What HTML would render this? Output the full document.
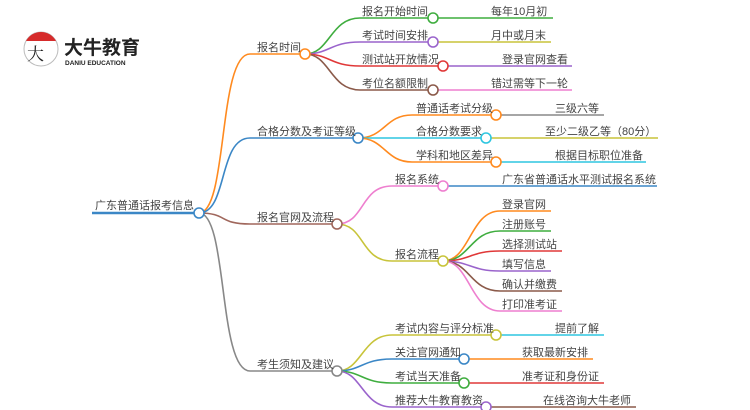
<!DOCTYPE html>
<html><head><meta charset="utf-8"><style>
html,body{margin:0;padding:0;background:#fff;}
svg{display:block;}
text{font-family:"Liberation Sans","Noto Sans CJK SC",sans-serif;font-size:11px;fill:#444;}
</style></head><body>
<svg width="750" height="410" viewBox="0 0 750 410" xmlns="http://www.w3.org/2000/svg">
<g fill="none" stroke-width="1.6">
<path d="M92,213 L199,213" stroke="#3b87c6" stroke-width="2.5"/>
<path d="M199,213 C228,213 218,54 250,54 L305,54" stroke="#ff8a1f"/>
<path d="M199,213 C228,213 218,138 250,138 L358,138" stroke="#3b87c6"/>
<path d="M199,213 C228,213 218,224 250,224 L337,224" stroke="#a0675c"/>
<path d="M199,213 C228,213 218,371 250,371 L337,371" stroke="#888"/>
<path d="M305,54 C330,54 330,18 360,18 L433,18" stroke="#3fad3f"/>
<path d="M305,54 C330,54 330,42 360,42 L433,42" stroke="#9a64cc"/>
<path d="M305,54 C330,54 330,66 360,66 L443,66" stroke="#e03838"/>
<path d="M305,54 C330,54 330,90 360,90 L433,90" stroke="#8b5a4a"/>
<path d="M433,18 L553,18" stroke="#3fad3f"/>
<path d="M433,42 L551,42" stroke="#c8c43a"/>
<path d="M443,66 L572,66" stroke="#9a64cc"/>
<path d="M433,90 L572,90" stroke="#ee7fcf"/>
<path d="M358,138 C385,138 385,115 412,115 L496,115" stroke="#ff8a1f"/>
<path d="M358,138 L486,138" stroke="#2fc6e0"/>
<path d="M358,138 C385,138 385,162 412,162 L496,162" stroke="#ff8a1f"/>
<path d="M496,115 L604,115" stroke="#888"/>
<path d="M486,138 L658,138" stroke="#c8c43a"/>
<path d="M496,162 L646,162" stroke="#2fc6e0"/>
<path d="M337,224 C365,224 360,186 392,186 L443,186" stroke="#ee7fcf"/>
<path d="M337,224 C365,224 360,261 392,261 L443,261" stroke="#c8c43a"/>
<path d="M443,186 L657,186" stroke="#3b87c6"/>
<path d="M443,261 C470,261 470,211 500,211 L551,211" stroke="#ff8a1f"/>
<path d="M443,261 C470,261 470,231 500,231 L551,231" stroke="#3fad3f"/>
<path d="M443,261 C470,261 470,251 500,251 L562,251" stroke="#e03838"/>
<path d="M443,261 C470,261 470,271 500,271 L551,271" stroke="#9a64cc"/>
<path d="M443,261 C470,261 470,291 500,291 L562,291" stroke="#8b5a4a"/>
<path d="M443,261 C470,261 470,311 500,311 L562,311" stroke="#ee7fcf"/>
<path d="M337,371 C362,371 362,335 392,335 L496,335" stroke="#c8c43a"/>
<path d="M337,371 C362,371 362,359 392,359 L464,359" stroke="#3b87c6"/>
<path d="M337,371 C362,371 362,383 392,383 L464,383" stroke="#3fad3f"/>
<path d="M337,371 C362,371 362,407 392,407 L486,407" stroke="#9a64cc"/>
<path d="M496,335 L604,335" stroke="#2fc6e0"/>
<path d="M464,359 L593,359" stroke="#ff8a1f"/>
<path d="M464,383 L604,383" stroke="#e03838"/>
<path d="M486,407 L636,407" stroke="#8b5a4a"/>
</g>
<g fill="#fff" stroke-width="1.6">
<circle cx="199" cy="213" r="5" stroke="#3b87c6"/>
<circle cx="305" cy="54" r="5" stroke="#ff8a1f"/>
<circle cx="358" cy="138" r="5" stroke="#3b87c6"/>
<circle cx="337" cy="224" r="5" stroke="#a0675c"/>
<circle cx="337" cy="371" r="5" stroke="#888"/>
<circle cx="433" cy="18" r="5" stroke="#3fad3f"/>
<circle cx="433" cy="42" r="5" stroke="#9a64cc"/>
<circle cx="443" cy="66" r="5" stroke="#e03838"/>
<circle cx="433" cy="90" r="5" stroke="#8b5a4a"/>
<circle cx="496" cy="115" r="5" stroke="#ff8a1f"/>
<circle cx="486" cy="138" r="5" stroke="#2fc6e0"/>
<circle cx="496" cy="162" r="5" stroke="#ff8a1f"/>
<circle cx="443" cy="186" r="5" stroke="#ee7fcf"/>
<circle cx="443" cy="261" r="5" stroke="#c8c43a"/>
<circle cx="496" cy="335" r="5" stroke="#c8c43a"/>
<circle cx="464" cy="359" r="5" stroke="#3b87c6"/>
<circle cx="464" cy="383" r="5" stroke="#3fad3f"/>
<circle cx="486" cy="407" r="5" stroke="#9a64cc"/>
</g>
<text x="95" y="209">广东普通话报考信息</text>
<text x="257" y="51">报名时间</text>
<text x="257" y="135">合格分数及考证等级</text>
<text x="257" y="221">报名官网及流程</text>
<text x="257" y="368">考生须知及建议</text>
<text x="362" y="15">报名开始时间</text>
<text x="362" y="39">考试时间安排</text>
<text x="362" y="63">测试站开放情况</text>
<text x="362" y="87">考位名额限制</text>
<text x="491" y="15">每年10月初</text>
<text x="491" y="39">月中或月末</text>
<text x="502" y="63">登录官网查看</text>
<text x="491" y="87">错过需等下一轮</text>
<text x="416" y="112">普通话考试分级</text>
<text x="416" y="135">合格分数要求</text>
<text x="416" y="159">学科和地区差异</text>
<text x="555" y="112">三级六等</text>
<text x="545" y="135">至少二级乙等（80分）</text>
<text x="555" y="159">根据目标职位准备</text>
<text x="395" y="183">报名系统</text>
<text x="395" y="258">报名流程</text>
<text x="502" y="183">广东省普通话水平测试报名系统</text>
<text x="502" y="208">登录官网</text>
<text x="502" y="228">注册账号</text>
<text x="502" y="248">选择测试站</text>
<text x="502" y="268">填写信息</text>
<text x="502" y="288">确认并缴费</text>
<text x="502" y="308">打印准考证</text>
<text x="395" y="332">考试内容与评分标准</text>
<text x="395" y="356">关注官网通知</text>
<text x="395" y="380">考试当天准备</text>
<text x="395" y="404">推荐大牛教育教资</text>
<text x="555" y="332">提前了解</text>
<text x="522" y="356">获取最新安排</text>
<text x="522" y="380">准考证和身份证</text>
<text x="543" y="404">在线咨询大牛老师</text>
<circle cx="41" cy="49" r="17" fill="#fff" stroke="#bbb" stroke-width="1"/>
<path d="M26,41 A17,17 0 0 1 56,41 Z" fill="#d62b2b"/>
<text x="27" y="60" style="font-size:17px;font-family:'Noto Serif CJK SC',serif;fill:#222">大</text>
<text x="64" y="54" style="font-size:19px;font-weight:bold;fill:#222">大牛教育</text>
<text x="65" y="65" style="font-size:6.5px;font-weight:bold;fill:#222">DANIU EDUCATION</text>
</svg>
</body></html>
